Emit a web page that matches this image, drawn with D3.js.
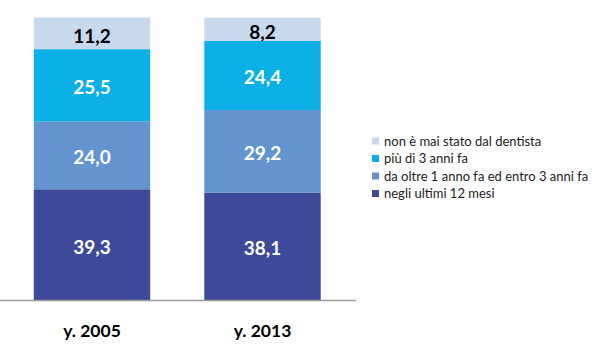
<!DOCTYPE html>
<html><head><meta charset="utf-8">
<script src="https://cdn.jsdelivr.net/npm/d3@7/dist/d3.min.js"></script>
<style>body{margin:0;background:#fff}svg{display:block}</style>
</head><body><svg id="c" width="610" height="344"></svg>
<script>
const categories = ["y. 2005", "y. 2013"];
const seriesNames = ["negli ultimi 12 mesi", "da oltre 1 anno fa ed entro 3 anni fa", "più di 3 anni fa", "non è mai stato dal dentista"];
const last12 = [39.3, 38.1];
const oneToThree = [24.0, 29.2];
const over3 = [25.5, 24.4];
const never = [11.2, 8.2];
const colors = ["#3D4A9A", "#6394CE", "#0BB0E6", "#C8D9EE"];
const labelColors = ["#fff", "#fff", "#fff", "#000"];

const seriesVals = [last12, oneToThree, over3, never];
const rows = categories.map((c, i) => {
  const o = {cat: c};
  seriesNames.forEach((s, j) => o[s] = seriesVals[j][i]);
  return o;
});
const stack = d3.stack().keys(seriesNames)(rows);

const svg = d3.select("#c");
const x = d3.scaleBand().domain(categories).range([6.75, 347.75]).paddingInner(0.317).paddingOuter(0.1585);
const y = d3.scaleLinear().domain([0, 100]).range([300.5, 17.5]);

const g = svg.append("g");
stack.forEach((layer, j) => {
  g.selectAll(null).data(layer).enter().append("rect")
    .attr("x", d => x(d.data.cat))
    .attr("width", x.bandwidth())
    .attr("y", d => y(d[1]))
    .attr("height", d => y(d[0]) - y(d[1]))
    .attr("fill", colors[j]);
  g.selectAll(null).data(layer).enter().append("text")
    .attr("x", d => x(d.data.cat) + x.bandwidth() / 2)
    .attr("y", d => (y(d[0]) + y(d[1])) / 2 + (j === 3 ? 3 : 2))
    .attr("dy", "0.36em")
    .attr("text-anchor", "middle")
    .attr("font-family", "Lato, sans-serif")
    .attr("font-weight", "bold")
    .attr("font-size", 19)
    .attr("fill", labelColors[j])
    .text(d => d3.format(".1f")(d[1] - d[0]).replace(".", ","));
});

svg.append("line").attr("x1", 0).attr("x2", 356).attr("y1", 300.5).attr("y2", 300.5)
  .attr("stroke", "#9a9a9a").attr("stroke-width", 1.5);

const ax = svg.append("g").attr("transform", "translate(0,300.5)")
  .call(d3.axisBottom(x).tickSize(0).tickPadding(24));
ax.select(".domain").remove();
ax.selectAll("text").attr("font-family", "Lato, sans-serif").attr("font-weight", "bold")
  .attr("font-size", 17.5).attr("fill", "#000");

const legendOrder = [3, 2, 1, 0];
const lg = svg.append("g");
legendOrder.forEach((j, k) => {
  const cy = 141 + k * 17.5;
  lg.append("rect").attr("x", 372).attr("y", cy - 3.5).attr("width", 7).attr("height", 7).attr("fill", colors[j]);
  lg.append("text").attr("x", 384).attr("y", cy).attr("dy", "0.35em")
    .attr("font-family", "Lato, sans-serif").attr("font-size", 13).attr("fill", "#222")
    .text(seriesNames[j]);
});
</script></body></html>
